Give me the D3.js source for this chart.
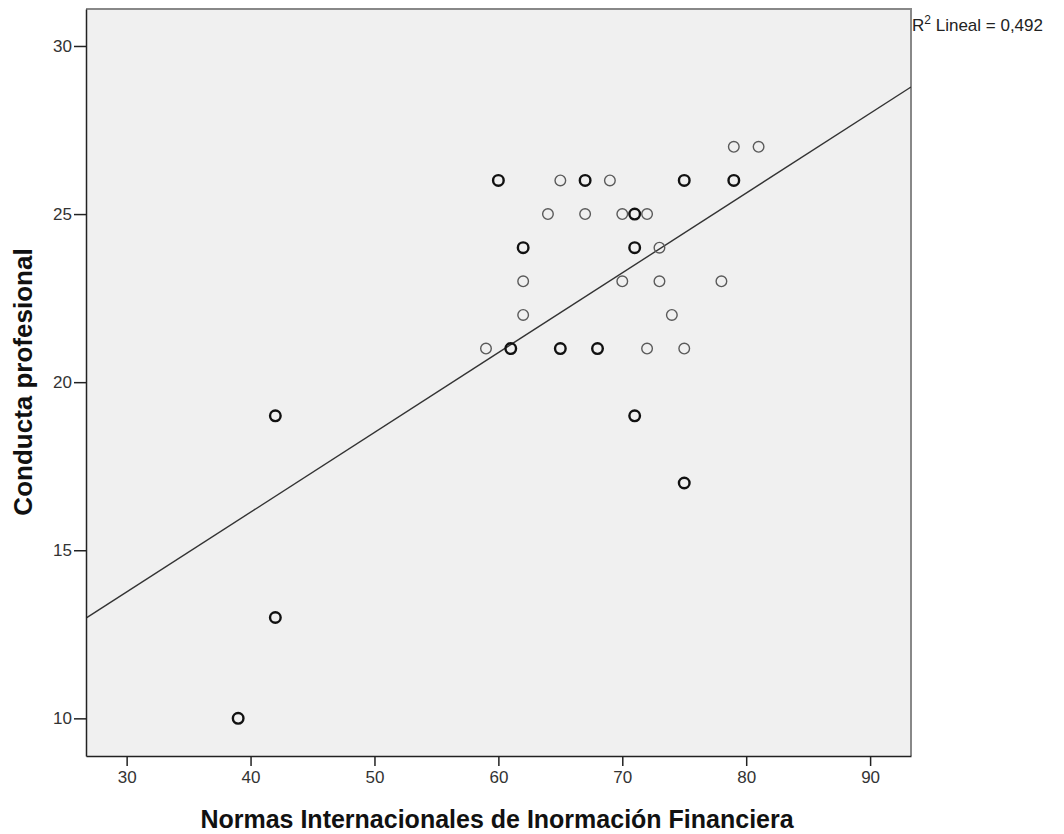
<!DOCTYPE html>
<html><head><meta charset="utf-8">
<script src="https://cdn.jsdelivr.net/npm/d3@7"></script>
<style>body{margin:0;background:#fff}svg{display:block}</style>
</head><body><svg id="c" width="1064" height="834"></svg>
<script>
const xVals = [39,42,42,59,60,61,62,62,62,64,65,65,67,67,68,69,70,70,71,71,71,72,72,73,73,74,75,75,75,78,79,79,81];
const yVals = [10,13,19,21,26,21,24,23,22,25,26,21,26,25,21,26,25,23,25,24,19,25,21,24,23,22,26,21,17,23,27,26,27];
const counts = [2,2,2,1,2,2,2,1,1,1,1,2,2,1,2,1,1,1,2,2,2,1,1,1,1,1,2,1,2,1,1,2,1];
const xTicks = [30,40,50,60,70,80,90];
const yTicks = [10,15,20,25,30];
const fitIntercept = 6.64, fitSlope = 0.2373;
const r2Label = "Lineal = 0,492";
const xTitle = "Normas Internacionales de Inormación Financiera";
const yTitle = "Conducta profesional";

const L=86,R=911,T=9,B=756;
const x = d3.scaleLinear().domain([26.72,93.3]).range([L,R]);
const y = d3.scaleLinear().domain([8.88,31.1]).range([B,T]);
const svg = d3.select("#c");
svg.append("rect").attr("x",L).attr("y",T).attr("width",R-L).attr("height",B-T).attr("fill","#f0f0f0");
svg.append("path").attr("d",`M${L},${T}H${R}V${B}`).attr("fill","none").attr("stroke","#888").attr("stroke-width",2);

svg.append("clipPath").attr("id","clp").append("rect").attr("x",L).attr("y",T).attr("width",R-L).attr("height",B-T);
const [d0,d1]=x.domain();
svg.append("line").attr("clip-path","url(#clp)")
  .attr("x1",x(d0)).attr("y1",y(fitIntercept+fitSlope*d0))
  .attr("x2",x(d1)).attr("y2",y(fitIntercept+fitSlope*d1))
  .attr("stroke","#333").attr("stroke-width",1.4);

const pts = xVals.map((v,i)=>({x:v,y:yVals[i],n:counts[i]}));
svg.append("g").selectAll("circle").data(pts).join("circle")
  .attr("cx",d=>x(d.x)).attr("cy",d=>y(d.y)).attr("r",5.3)
  .attr("fill","none")
  .attr("stroke",d=>d.n>1?"#111":"#5a5a5a")
  .attr("stroke-width",d=>d.n>1?2.4:1.4);

const font="'Liberation Sans', Arial, sans-serif";
const xa = svg.append("g").attr("transform",`translate(0,${B})`)
  .call(d3.axisBottom(x).tickValues(xTicks).tickSize(10).tickPadding(5).tickSizeOuter(0));
const ya = svg.append("g").attr("transform",`translate(${L},0)`)
  .call(d3.axisLeft(y).tickValues(yTicks).tickSize(12).tickPadding(2).tickSizeOuter(0));
[xa,ya].forEach(a=>{
  a.select(".domain").attr("stroke","#222").attr("stroke-width",1.5);
  a.selectAll(".tick line").attr("stroke","#222").attr("stroke-width",1.5);
  a.selectAll(".tick text").attr("font-family",font).attr("font-size",17).attr("fill","#333");
});

const r2 = svg.append("text").attr("x",R+1).attr("y",31).attr("font-family",font).attr("font-size",17).attr("fill","#222");
r2.append("tspan").text("R");
r2.append("tspan").attr("dy",-7).attr("font-size",12).text("2");
r2.append("tspan").attr("dy",7).text(" "+r2Label);

svg.append("text").attr("x",497).attr("y",828).attr("text-anchor","middle")
  .attr("font-family",font).attr("font-weight","bold").attr("font-size",25).attr("fill","#111").text(xTitle);
svg.append("text").attr("transform",`translate(32,382) rotate(-90)`).attr("text-anchor","middle")
  .attr("font-family",font).attr("font-weight","bold").attr("font-size",26).attr("fill","#111").text(yTitle);
</script></body></html>
